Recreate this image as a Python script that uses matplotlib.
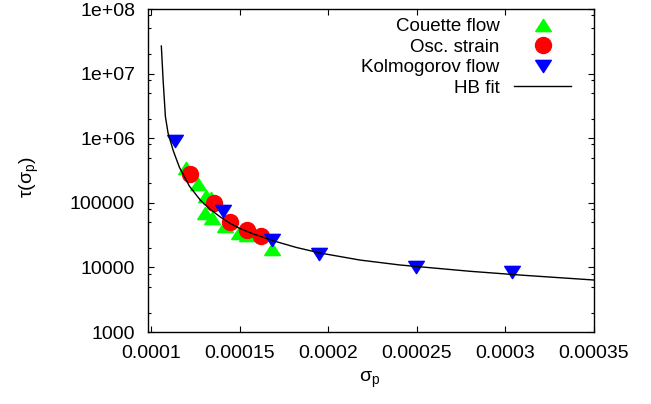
import numpy as np
import matplotlib
matplotlib.use('Agg')
import matplotlib.pyplot as plt
from matplotlib.ticker import FixedLocator, FixedFormatter, NullFormatter

plt.rcParams['font.family'] = ['Liberation Sans', 'DejaVu Sans']
plt.rcParams['mathtext.fontset'] = 'custom'
plt.rcParams['mathtext.rm'] = 'Liberation Sans'
plt.rcParams['mathtext.it'] = 'Liberation Sans'
plt.rcParams['font.size'] = 14

# Couette flow (green up triangles)
couette_sigma = [0.0001197, 0.0001263, 0.0001312, 0.0001338, 0.0001306, 0.0001344,
                 0.0001419, 0.0001494, 0.0001541, 0.0001682]
couette_tau = [348000, 199000, 127000, 120000, 70300, 58900, 43700, 34600, 31400, 19100]

# Oscillatory strain (red circles)
osc_sigma = [0.0001222, 0.0001353, 0.0001443, 0.0001541, 0.0001622]
osc_tau = [281000, 100400, 50400, 37500, 30600]

# Kolmogorov flow (blue down triangles)
kol_sigma = [0.0001133, 0.0001406, 0.0001682, 0.000195, 0.0002495, 0.000304]
kol_tau = [896000, 74500, 26300, 16000, 10200, 8530]

# HB fit curve
fit_sigma = [0.0001058, 0.0001068, 0.0001081, 0.0001096, 0.0001126, 0.000116,
             0.0001216, 0.0001278, 0.0001334, 0.0001391, 0.0001447, 0.0001503,
             0.0001576, 0.0001684, 0.0001819, 0.0001954, 0.0002179, 0.0002405,
             0.00028, 0.0003082, 0.00035]
fit_tau = [2.67e7, 7.96e6, 2.15e6, 1.20e6, 6.31e5, 3.55e5, 1.82e5, 1.10e5,
           79400, 60300, 47900, 39800, 33100, 26100, 20400, 16700, 13000,
           10900, 8710, 7620, 6380]

xticks = [0.0001, 0.00015, 0.0002, 0.00025, 0.0003, 0.00035]
xtick_labels = ['0.0001', '0.00015', '0.0002', '0.00025', '0.0003', '0.00035']
yticks = [1e3, 1e4, 1e5, 1e6, 1e7, 1e8]
ytick_labels = ['1000', '10000', '100000', '1e+06', '1e+07', '1e+08']

tri_up = [(-1, -0.78), (1, -0.78), (0, 0.78), (-1, -0.78)]
tri_down = [(-1, 0.78), (1, 0.78), (0, -0.78), (-1, 0.78)]

fig = plt.figure(figsize=(6.51, 4.04), dpi=100)
ax = fig.add_axes([0.2266, 0.1782, 0.9124 - 0.2266, 0.9777 - 0.1782])

ax.plot(couette_sigma, couette_tau, linestyle='none', marker=tri_up, ms=11.3,
        color='#00ff00', mec='#00ff00', label='Couette flow')
ax.plot(osc_sigma, osc_tau, linestyle='none', marker='o', ms=11.5,
        color='#ff0000', mec='#ff0000', label='Osc. strain')
ax.plot(kol_sigma, kol_tau, linestyle='none', marker=tri_down, ms=11.3,
        color='#0000ff', mec='#0000ff', label='Kolmogorov flow')
ax.plot(fit_sigma, fit_tau, color='black', lw=1.0, label='HB fit')

ax.set_yscale('log')
ax.set_xlim(0.000098, 0.00035)
ax.set_ylim(1e3, 1e8)

ax.xaxis.set_major_locator(FixedLocator(xticks))
ax.xaxis.set_major_formatter(FixedFormatter(xtick_labels))
ax.yaxis.set_major_locator(FixedLocator(yticks))
ax.yaxis.set_major_formatter(FixedFormatter(ytick_labels))
minors = [m * 10.0 ** k for k in range(3, 8) for m in (2, 5, 8)]
ax.yaxis.set_minor_locator(FixedLocator(minors))
ax.yaxis.set_minor_formatter(NullFormatter())
ax.xaxis.set_minor_locator(FixedLocator([]))

ax.tick_params(which='both', direction='in', top=True, right=True)
ax.tick_params(which='major', length=4, width=0.8, pad=9)
ax.tick_params(which='minor', length=2.5, width=0.8)
for s in ax.spines.values():
    s.set_linewidth(1.0)

ax.set_xlabel(r'$\sigma_p$')
ax.set_ylabel(r'$\tau(\sigma_p)$')
ax.xaxis.set_label_coords(0.498, -0.118)
ax.yaxis.set_label_coords(-0.239, 0.48)

ax.legend(loc='upper right', bbox_to_anchor=(0.973, 1.006), frameon=False,
          markerfirst=False, handlelength=3.0, handletextpad=0.8,
          labelspacing=0.18, borderaxespad=0.2, numpoints=1, fontsize=13.5)

fig.savefig('out.png', dpi=100)
